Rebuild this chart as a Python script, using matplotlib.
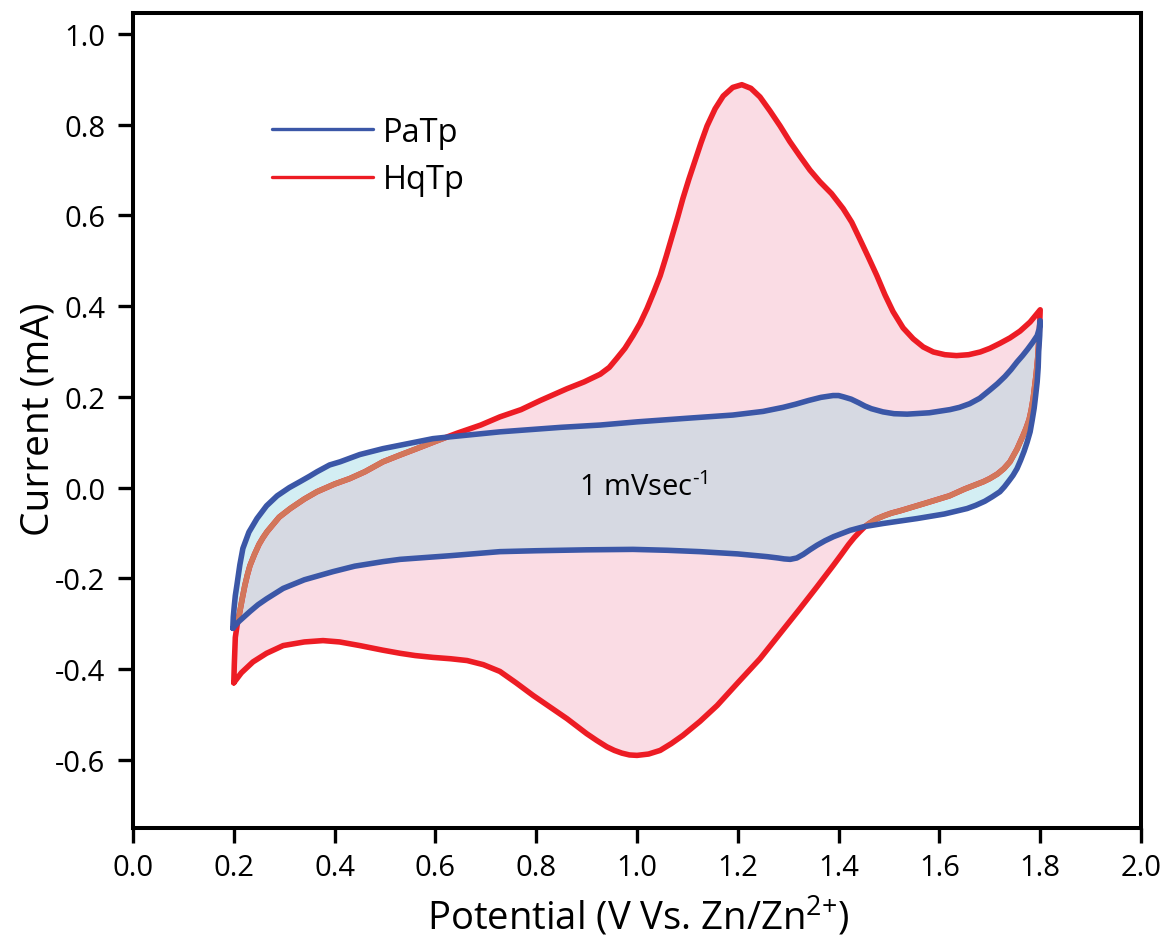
import matplotlib
matplotlib.use('Agg')
import matplotlib.pyplot as plt
from matplotlib.lines import Line2D

plt.rcParams['font.family'] = ['Open Sans', 'DejaVu Sans']
plt.rcParams['mathtext.fontset'] = 'custom'
plt.rcParams['mathtext.rm'] = 'Open Sans'
plt.rcParams['mathtext.default'] = 'regular'
plt.rcParams['axes.unicode_minus'] = False

# HqTp: forward scan (0.2 -> 1.8 V) and reverse scan (1.8 -> 0.2 V)
hq_fwd_x = [0.200, 0.201, 0.203, 0.207, 0.212, 0.217, 0.222, 0.227, 0.232, 0.241,
            0.250, 0.258, 0.266, 0.290, 0.312, 0.340, 0.365, 0.400, 0.430, 0.460,
            0.496, 0.530, 0.563, 0.600, 0.643, 0.690, 0.728, 0.770, 0.808, 0.861,
            0.895, 0.927, 0.945, 0.960, 0.976, 0.992, 1.006, 1.020, 1.033, 1.046,
            1.058, 1.070, 1.081, 1.091, 1.103, 1.115, 1.127, 1.139, 1.155, 1.171,
            1.190, 1.208, 1.226, 1.244, 1.264, 1.284, 1.303, 1.323, 1.343, 1.363,
            1.386, 1.409, 1.426, 1.442, 1.459, 1.476, 1.492, 1.508, 1.528, 1.548,
            1.568, 1.588, 1.611, 1.634, 1.658, 1.681, 1.700, 1.720, 1.740, 1.760,
            1.780, 1.800]
hq_fwd_y = [-0.430, -0.390, -0.330, -0.300, -0.273, -0.243, -0.215, -0.192, -0.172, -0.147,
            -0.125, -0.110, -0.097, -0.065, -0.046, -0.025, -0.009, 0.008, 0.020, 0.035,
            0.057, 0.072, 0.086, 0.102, 0.120, 0.138, 0.156, 0.172, 0.192, 0.218,
            0.233, 0.250, 0.265, 0.285, 0.307, 0.335, 0.362, 0.395, 0.430, 0.467,
            0.510, 0.555, 0.597, 0.637, 0.680, 0.720, 0.760, 0.797, 0.835, 0.863,
            0.882, 0.888, 0.880, 0.861, 0.830, 0.797, 0.763, 0.731, 0.700, 0.674,
            0.648, 0.615, 0.585, 0.548, 0.508, 0.467, 0.425, 0.388, 0.352, 0.328,
            0.310, 0.299, 0.293, 0.291, 0.293, 0.299, 0.307, 0.318, 0.330, 0.345,
            0.365, 0.392]
hq_rev_x = [1.799, 1.797, 1.795, 1.792, 1.789, 1.786, 1.782, 1.778, 1.772, 1.766,
            1.754, 1.740, 1.728, 1.715, 1.700, 1.687, 1.650, 1.620, 1.570, 1.522,
            1.505, 1.490, 1.475, 1.462, 1.452, 1.442, 1.431, 1.420, 1.405, 1.389,
            1.356, 1.323, 1.285, 1.244, 1.200, 1.159, 1.125, 1.091, 1.068, 1.046,
            1.023, 1.000, 0.985, 0.970, 0.955, 0.940, 0.920, 0.900, 0.861, 0.828,
            0.794, 0.760, 0.728, 0.695, 0.663, 0.630, 0.595, 0.560, 0.530, 0.495,
            0.450, 0.410, 0.377, 0.340, 0.298, 0.265, 0.238, 0.215, 0.200]
hq_rev_y = [0.360, 0.320, 0.285, 0.250, 0.222, 0.196, 0.170, 0.150, 0.131, 0.115,
            0.085, 0.057, 0.042, 0.030, 0.020, 0.013, -0.003, -0.018, -0.035, -0.051,
            -0.056, -0.062, -0.069, -0.078, -0.086, -0.097, -0.110, -0.125, -0.148, -0.172,
            -0.220, -0.267, -0.320, -0.377, -0.430, -0.480, -0.515, -0.546, -0.564, -0.579,
            -0.587, -0.590, -0.589, -0.585, -0.579, -0.571, -0.557, -0.542, -0.509, -0.484,
            -0.458, -0.430, -0.405, -0.390, -0.381, -0.377, -0.374, -0.370, -0.365, -0.358,
            -0.348, -0.340, -0.337, -0.340, -0.348, -0.365, -0.384, -0.408, -0.430]

# PaTp
pa_fwd_x = [0.198, 0.199, 0.201, 0.203, 0.206, 0.212, 0.218, 0.230, 0.246, 0.265,
            0.286, 0.310, 0.331, 0.350, 0.365, 0.390, 0.411, 0.450, 0.496, 0.550,
            0.595, 0.629, 0.728, 0.850, 0.927, 1.000, 1.100, 1.190, 1.250, 1.290,
            1.315, 1.340, 1.365, 1.389, 1.400, 1.410, 1.425, 1.440, 1.452, 1.465,
            1.488, 1.510, 1.536, 1.580, 1.621, 1.640, 1.660, 1.680, 1.700, 1.715,
            1.730, 1.742, 1.754, 1.765, 1.775, 1.785, 1.794, 1.798, 1.800]
pa_fwd_y = [-0.310, -0.285, -0.260, -0.238, -0.216, -0.170, -0.134, -0.098, -0.068, -0.040,
            -0.018, 0.000, 0.013, 0.025, 0.035, 0.050, 0.057, 0.073, 0.086, 0.098,
            0.108, 0.112, 0.123, 0.133, 0.138, 0.145, 0.153, 0.160, 0.168, 0.177,
            0.184, 0.192, 0.199, 0.203, 0.203, 0.200, 0.195, 0.187, 0.180, 0.174,
            0.167, 0.163, 0.162, 0.165, 0.172, 0.177, 0.185, 0.197, 0.215, 0.229,
            0.245, 0.260, 0.277, 0.291, 0.305, 0.320, 0.335, 0.350, 0.368]
pa_rev_x = [1.799, 1.797, 1.796, 1.794, 1.791, 1.788, 1.784, 1.780, 1.774, 1.768,
            1.761, 1.754, 1.746, 1.738, 1.729, 1.720, 1.705, 1.690, 1.672, 1.655,
            1.610, 1.556, 1.488, 1.450, 1.423, 1.390, 1.373, 1.357, 1.343, 1.330,
            1.317, 1.304, 1.292, 1.280, 1.258, 1.200, 1.125, 1.060, 0.992, 0.900,
            0.800, 0.728, 0.629, 0.530, 0.496, 0.440, 0.397, 0.340, 0.298, 0.265,
            0.248, 0.232, 0.220, 0.210, 0.198]
pa_rev_y = [0.335, 0.300, 0.265, 0.233, 0.203, 0.175, 0.148, 0.123, 0.100, 0.080,
            0.060, 0.042, 0.027, 0.015, 0.002, -0.009, -0.020, -0.030, -0.039, -0.046,
            -0.058, -0.068, -0.079, -0.086, -0.094, -0.108, -0.117, -0.127, -0.137, -0.147,
            -0.155, -0.158, -0.157, -0.155, -0.152, -0.146, -0.141, -0.138, -0.136, -0.137,
            -0.139, -0.141, -0.150, -0.158, -0.163, -0.173, -0.185, -0.203, -0.222, -0.245,
            -0.258, -0.273, -0.285, -0.295, -0.310]

hq_x = hq_fwd_x + hq_rev_x
hq_y = hq_fwd_y + hq_rev_y
pa_x = pa_fwd_x + pa_rev_x
pa_y = pa_fwd_y + pa_rev_y

red = '#ED1C24'
blue = '#3B57A7'
orange = '#D2775B'

fig = plt.figure(figsize=(11.68, 9.37), dpi=100)
ax = fig.add_axes([133/1168, 1 - 829/937, 1008/1168, 815/937])

# fills: pink for HqTp, light cyan for PaTp, greyish where they overlap
ax.fill(hq_x, hq_y, color='#FADCE4', lw=0, zorder=1)
pa_patch = ax.fill(pa_x, pa_y, color='#D3EEF3', lw=0, zorder=2)[0]
overlap = ax.fill(hq_x, hq_y, color='#D6D9E2', lw=0, zorder=3)[0]
overlap.set_clip_path(pa_patch)

ax.plot(hq_x, hq_y, color=red, lw=4, zorder=4,
        solid_capstyle='round', solid_joinstyle='round')
# part of the red curve seen through the PaTp fill looks orange
hidden = ax.plot(hq_x, hq_y, color=orange, lw=4, zorder=5,
                 solid_capstyle='round', solid_joinstyle='round')[0]
hidden.set_clip_path(pa_patch)
ax.plot(pa_x, pa_y, color=blue, lw=4, zorder=6,
        solid_capstyle='round', solid_joinstyle='round')

ax.text(1.012, 0.002, r'1 mVsec$^{\text{-1}}$', fontsize=21, ha='center', va='center', zorder=7)

handles = [Line2D([], [], color=blue, lw=2.4, solid_capstyle='round'),
           Line2D([], [], color=red, lw=2.4, solid_capstyle='round')]
ax.legend(handles, ['PaTp', 'HqTp'], loc='center left',
          bbox_to_anchor=(139/1008, (829 - 157)/815), frameon=False, fontsize=23.5,
          handlelength=3.1, handletextpad=0.3, labelspacing=0.45,
          borderpad=0, borderaxespad=0)

ax.set_xlim(0, 2.0)
ax.set_ylim(-0.75, 1.046)
ax.set_xticks([0.0, 0.2, 0.4, 0.6, 0.8, 1.0, 1.2, 1.4, 1.6, 1.8, 2.0])
ax.set_yticks([-0.6, -0.4, -0.2, 0.0, 0.2, 0.4, 0.6, 0.8, 1.0])
ax.set_xticklabels([f'{v:.1f}' for v in ax.get_xticks()])
ax.set_yticklabels([f'{v:.1f}' for v in ax.get_yticks()])
ax.tick_params(direction='out', length=11, width=2.4, labelsize=21)
ax.tick_params(axis='x', pad=7)
ax.tick_params(axis='y', pad=9)
for s in ax.spines.values():
    s.set_linewidth(2.9)

fig.text(39/1168, 1 - 419/937, 'Current (mA)', rotation=90, fontsize=28,
         ha='center', va='center')
fig.text(638/1168, 1 - 930/937, r'Potential (V Vs. Zn/Zn$^{\text{2+}}$)', fontsize=27.5,
         ha='center', va='baseline')

fig.savefig('out.png', dpi=100)
